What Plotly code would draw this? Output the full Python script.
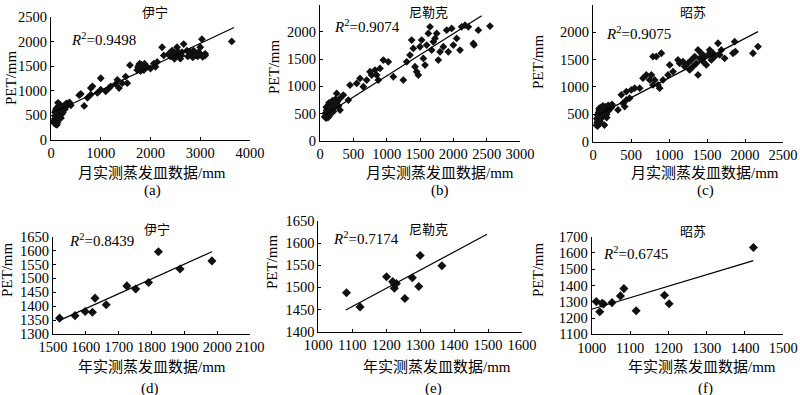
import plotly.graph_objects as go

# ---------------- data ----------------
# (a) Yining monthly
a_x = [60, 70, 75, 80, 85, 90, 95, 100, 105, 110, 115, 120, 125, 130, 135, 140, 150, 160, 170, 180,
       190, 200, 210, 220, 230, 250, 270, 290, 310, 340, 370, 400, 80, 95, 110, 130, 150, 175, 200, 240,
       280, 120, 140, 160, 100,
       567, 600, 667, 733, 800, 800, 833, 933, 1000, 1000, 1100, 1167, 1200, 1300, 1333, 1367, 1433,
       1500, 1533, 1587, 1733, 1750, 1767, 1780, 1800, 1800, 1820, 1833, 1850, 1867, 1867, 1880, 1933,
       2000, 2067, 2100, 2133, 2233, 2267, 2367, 2400, 2433, 2450, 2470, 2480, 2500, 2520, 2533, 2550,
       2567, 2580, 2600, 2620, 2633, 2667, 2733, 2750, 2800, 2800, 2850, 2867, 2900, 2950, 2967, 3000,
       3000, 3033, 3050, 3067, 3100, 3100, 3633]
a_y = [380, 330, 420, 350, 480, 400, 310, 450, 520, 370, 430, 560, 480, 400, 600, 520, 450, 640, 560, 500,
       620, 580, 680, 520, 600, 650, 700, 660, 740, 720, 760, 700, 560, 600, 640, 350, 680, 720, 440, 560,
       620, 300, 750, 420, 500,
       907, 933, 687, 853, 920, 1053, 1087, 953, 1253, 1020, 987, 1053, 1087, 1133, 1220, 1053, 1153,
       1287, 1153, 1520, 1420, 1480, 1520, 1550, 1487, 1400, 1530, 1453, 1470, 1507, 1420, 1550, 1487,
       1453, 1553, 1487, 1587, 1887, 1720, 1753, 1700, 1820, 1780, 1750, 1650, 1753, 1740, 1887, 1800,
       1720, 1690, 1653, 1720, 1787, 1953, 1820, 1700, 1753, 1800, 1680, 1820, 1720, 1700, 1787, 1887,
       1750, 2053, 1690, 1720, 1753, 1720, 2007]
trend_a_x = [50, 3680]
trend_a_y = [551, 2290]

# (b) Nileke monthly
b_x = [70, 80, 90, 100, 100, 110, 115, 120, 125, 130, 135, 140, 145, 150, 160, 165, 170, 180, 190, 200,
       210, 220, 230, 240, 260, 280, 300, 120, 150, 175, 200, 95, 140, 190, 230,
       250, 300, 350, 425, 450, 550, 600, 650, 700, 750, 775, 825, 850, 875, 900, 950, 1025, 1100, 1250,
       1300, 1350, 1375, 1400, 1425, 1450, 1475, 1500, 1525, 1550, 1575, 1600, 1625, 1650, 1675, 1700,
       1725, 1750, 1775, 1800, 1850, 1900, 1925, 1975, 2000, 2050, 2100, 2125, 2175, 2225, 2300, 2310,
       2375, 2550]
b_y = [445, 506, 420, 560, 480, 600, 530, 650, 470, 580, 700, 520, 620, 560, 680, 600, 640, 720, 580, 660,
       700, 620, 760, 690, 720, 640, 780, 430, 500, 560, 540, 620, 460, 740, 660,
       872, 567, 841, 750, 1024, 1055, 1146, 994, 1116, 1268, 1207, 1299, 1207, 1116, 1329, 1482, 1451,
       1177, 1116, 1451, 1573, 1848, 1695, 1360, 1268, 1207, 1726, 1848, 1512, 1390, 1756, 1970, 2091,
       1665, 1817, 1878, 1970, 1482, 1634, 1726, 2030, 1634, 2061, 1756, 1878, 1665, 2091, 2122, 2091,
       1787, 1760, 2030, 2104]
trend_b_x = [75, 2425]
trend_b_y = [476, 2293]

# (c) Zhaosu monthly
c_x = [45, 50, 55, 60, 65, 70, 75, 80, 85, 90, 95, 100, 105, 110, 115, 120, 130, 140, 150, 160,
       170, 180, 190, 200, 210, 220, 240, 250, 60, 80, 100, 120, 150, 180, 200, 130, 90,
       329, 395, 373, 417, 439, 482, 439, 504, 548, 614, 658, 702, 746, 768, 789, 811, 789, 833, 855, 877,
       899, 921, 987, 1009, 1053, 1118, 1140, 1184, 1206, 1250, 1272, 1294, 1316, 1338, 1360, 1382,
       1382, 1404, 1425, 1447, 1469, 1491, 1513, 1535, 1557, 1579, 1601, 1645, 1667, 1689, 1732, 1842,
       1864, 1873, 2105, 2171]
c_y = [300, 420, 350, 480, 380, 520, 450, 560, 400, 500, 620, 460, 540, 580, 430, 600, 520, 640, 560, 600,
       640, 500, 620, 660, 580, 640, 620, 680, 280, 600, 350, 470, 300, 440, 560, 650, 540,
       579, 701, 854, 640, 762, 793, 915, 945, 976, 976, 1159, 1220, 1128, 1220, 1037, 1128, 1555, 1555,
       1037, 976, 1616, 1128, 1220, 1402, 1280, 1494, 1433, 1463, 1372, 1433, 1311, 1494, 1372, 1555,
       1433, 1677, 1220, 1524, 1616, 1463, 1555, 1402, 1585, 1677, 1494, 1616, 1555, 1799, 1585, 1677,
       1524, 1616, 1829, 1646, 1616, 1738]
trend_c_x = [66, 2171]
trend_c_y = [488, 2012]

# (d) Yining annual
d_x = [1520, 1567, 1598, 1620, 1628, 1662, 1725, 1752, 1791, 1821, 1887, 1984]
d_y = [1357, 1366, 1381, 1378, 1429, 1405, 1473, 1462, 1485, 1596, 1534, 1563]
trend_d_x = [1520, 1984]
trend_d_y = [1349, 1596]

# (e) Nileke annual
e_x = [1083, 1123, 1201, 1219, 1225, 1224, 1230, 1255, 1277, 1296, 1300, 1364]
e_y = [1488, 1456, 1524, 1513, 1507, 1498, 1509, 1475, 1522, 1502, 1572, 1549]
trend_e_x = [1081, 1497]
trend_e_y = [1449, 1620]

# (f) Zhaosu annual
f_x = [1012, 1021, 1027, 1031, 1053, 1075, 1084, 1116, 1190, 1202, 1422]
f_y = [1301, 1239, 1290, 1286, 1295, 1336, 1381, 1245, 1340, 1288, 1634]
trend_f_x = [1000, 1422]
trend_f_y = [1254, 1553]

titles = ["伊宁", "尼勒克", "昭苏", "伊宁", "尼勒克", "昭苏"]
r2_text = ["0.9498", "0.9074", "0.9075", "0.8439", "0.7174", "0.6745"]
sub_labels = ["(a)", "(b)", "(c)", "(d)", "(e)", "(f)"]
x_title_month = "月实测蒸发皿数据/mm"
x_title_year = "年实测蒸发皿数据/mm"
y_title = "PET/mm"

# ---------------- layout helpers ----------------
W, H = 800, 395
FONT = "Liberation Serif, Noto Sans CJK SC, serif"


def fx(px):
    return px / W


def fy(py):
    return 1 - py / H


panels = [
    dict(x=a_x, y=a_y, tx=trend_a_x, ty=trend_a_y, xr=[0, 4000], yr=[0, 2500],
         xd=(51, 250), yd=(139.5, 17.3), dx=1000, dy=500, ms=6),
    dict(x=b_x, y=b_y, tx=trend_b_x, ty=trend_b_y, xr=[0, 3000], yr=[0, 2500],
         xd=(320, 520), yd=(141, 4.5), dx=500, dy=500, ms=6),
    dict(x=c_x, y=c_y, tx=trend_c_x, ty=trend_c_y, xr=[0, 2500], yr=[0, 2500],
         xd=(593, 783), yd=(141.5, 5), dx=500, dy=500, ms=6),
    dict(x=d_x, y=d_y, tx=trend_d_x, ty=trend_d_y, xr=[1500, 2100], yr=[1300, 1650],
         xd=(53, 250), yd=(334, 236.7), dx=100, dy=50, ms=7),
    dict(x=e_x, y=e_y, tx=trend_e_x, ty=trend_e_y, xr=[1000, 1600], yr=[1400, 1650],
         xd=(318.3, 522), yd=(331.7, 221), dx=100, dy=50, ms=7),
    dict(x=f_x, y=f_y, tx=trend_f_x, ty=trend_f_y, xr=[1000, 1500], yr=[1100, 1700],
         xd=(591.7, 783.3), yd=(334.3, 236.7), dx=100, dy=100, ms=7),
]

title_pos = [(155, 12), (428, 13), (693, 13), (157, 229), (428, 229), (693, 231)]
r2_pos = [(103, 39), (367, 26), (638, 33), (101, 240), (366, 238), (635, 253)]
xt_pos = [(152, 173), (440, 173), (705, 173), (152, 367), (437, 367), (702, 367)]
sub_pos = [(152, 190), (440, 190), (705, 190), (150, 388), (433, 388), (705, 388)]
yt_pos = [(11, 78), (274, 67), (538, 62), (7, 270), (272, 262), (538, 270)]

fig = go.Figure()
layout = dict(
    width=W, height=H, margin=dict(l=0, r=0, t=0, b=0, autoexpand=False),
    paper_bgcolor="white", plot_bgcolor="white", showlegend=False,
    font=dict(family=FONT, color="black", size=14),
)
annotations = []


def ann(text, pos, size, **kw):
    return dict(text=text, x=fx(pos[0]), y=fy(pos[1]), xref="paper", yref="paper",
                xanchor="center", yanchor="middle", showarrow=False,
                font=dict(family=FONT, size=size, color="black"), **kw)


for i, p in enumerate(panels):
    n = "" if i == 0 else str(i + 1)
    xa, ya = "x" + n, "y" + n
    fig.add_trace(go.Scatter(x=p["x"], y=p["y"], mode="markers", xaxis=xa, yaxis=ya,
                             marker=dict(symbol="diamond", size=p["ms"], color="#111111",
                                         line=dict(width=0)), hoverinfo="skip"))
    fig.add_trace(go.Scatter(x=p["tx"], y=p["ty"], mode="lines", xaxis=xa, yaxis=ya,
                             line=dict(color="black", width=1.2), hoverinfo="skip"))
    common = dict(showgrid=False, zeroline=False, showline=True, linecolor="black", linewidth=1,
                  ticks="inside", ticklen=3, tickcolor="black", automargin=False,
                  tickfont=dict(family=FONT, size=14.5, color="black"))
    layout["xaxis" + n] = dict(common, domain=[fx(p["xd"][0]), fx(p["xd"][1])], range=p["xr"],
                               dtick=p["dx"], tick0=p["xr"][0], anchor=ya)
    layout["yaxis" + n] = dict(common, domain=[fy(p["yd"][0]), fy(p["yd"][1])], range=p["yr"],
                               dtick=p["dy"], tick0=p["yr"][0], anchor=xa)

    annotations.append(ann(titles[i], title_pos[i], 13))
    annotations.append(ann("<i>R</i><sup>2</sup>=" + r2_text[i], r2_pos[i], 15))
    annotations.append(ann(x_title_month if i < 3 else x_title_year, xt_pos[i], 15))
    annotations.append(ann(sub_labels[i], sub_pos[i], 15))
    annotations.append(ann(y_title, yt_pos[i], 15, textangle=-90))

layout["annotations"] = annotations
fig.update_layout(**layout)
# remove the default 8 px page margin so the figure fills the window exactly
fig.write_html("out.html", config={"displayModeBar": False},
               post_script="document.body.style.margin='0';")
